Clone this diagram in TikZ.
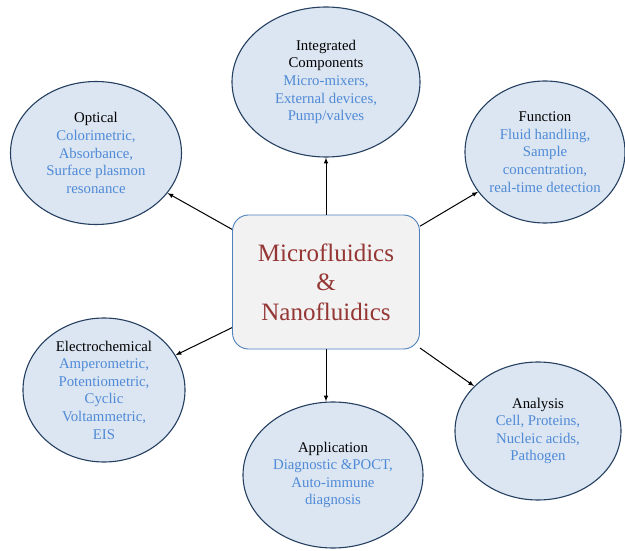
\documentclass[tikz,border=0pt]{standalone}
\usepackage{fontspec}
\setmainfont{Liberation Serif}
\usepackage{xcolor}
\usetikzlibrary{shapes.geometric}
\definecolor{bubble}{HTML}{DCE6F2}
\definecolor{rim}{HTML}{243F60}
\definecolor{detail}{HTML}{4F8AD6}
\definecolor{hubtext}{HTML}{943634}
\definecolor{hubrim}{HTML}{4F81BD}
\newcommand{\headline}[1]{\textcolor{black}{#1}}
\tikzset{topic/.style={ellipse, draw=rim, fill=bubble, line width=1.1pt, inner sep=0pt, align=center, text=detail, font=\fontsize{14.8}{17.6}\selectfont}}

\begin{document}
\begin{tikzpicture}[x=1pt,y=-1pt]
\useasboundingbox (0,0) rectangle (625,551);
\node [rectangle, rounded corners=16pt, draw=hubrim, fill=black!5, line width=0.9pt, minimum width=187pt, minimum height=134pt, align=center, text=hubtext, font=\fontsize{25}{29.5}\selectfont] (hub) at (326,282) {Microfluidics\\\&\\Nanofluidics};
\node [topic, minimum width=171pt, minimum height=143pt] (optical) at (96,153) {\headline{Optical}\\Colorimetric,\\Absorbance,\\Surface plasmon\\resonance};
\node [topic, minimum width=188pt, minimum height=150pt] (integrated) at (326,82) {\headline{Integrated}\\\headline{Components}\\Micro-mixers,\\External devices,\\Pump/valves};
\node [topic, minimum width=160pt, minimum height=142pt] (function) at (545,152) {\headline{Function}\\Fluid handling,\\Sample\\concentration,\\real-time detection};
\node [topic, minimum width=162pt, minimum height=144pt] (electro) at (104,390) {\headline{Electrochemical}\\Amperometric,\\Potentiometric,\\Cyclic\\Voltammetric,\\EIS};
\node [topic, minimum width=180pt, minimum height=146pt] (application) at (333,475) {\headline{Application}\\Diagnostic \&POCT,\\Auto-immune\\diagnosis};
\node [topic, minimum width=166pt, minimum height=138pt] (analysis) at (538,431) {\headline{Analysis}\\Cell, Proteins,\\Nucleic acids,\\Pathogen};
\draw [->, >=latex, line width=1pt] (hub) -- (optical);
\draw [->, >=latex, line width=1pt] (hub.north) -- (integrated);
\draw [->, >=latex, line width=1pt] (hub) -- (function);
\draw [->, >=latex, line width=1pt] (hub) -- (electro);
\draw [->, >=latex, line width=1pt] (hub.south) -- (hub.south |- application.north);
\draw [->, >=latex, line width=1pt] (hub) -- (analysis);
\end{tikzpicture}
\end{document}
